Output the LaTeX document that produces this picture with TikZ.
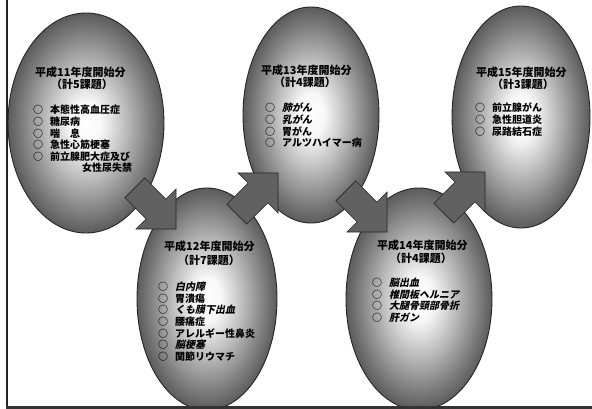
\documentclass[tikz,border=0pt]{standalone}
\usepackage{fontspec}
\usetikzlibrary{shapes.geometric}
\newfontfamily\jp{Noto Sans CJK JP}
\newfontfamily\jpsl{Noto Sans CJK JP}[FakeSlant=0.22]
\pgfdeclareradialshading{eggshade}{\pgfpoint{0bp}{0bp}}{color(0bp)=(white); color(5bp)=(black!3); color(13bp)=(black!27); color(21bp)=(black!52); color(25bp)=(black!64); color(50bp)=(black!64)}
\newcommand\myo{○\hspace{7pt}}
\newcommand\slnt[1]{{\jpsl\bfseries #1}}
\tikzset{
  uparrow/.pic={\path[blk] (0,0) -- (-40,0) -- (-29.9,10.1) -- (-51.1,31.3) -- (-31.3,51.1) -- (-10.1,29.9) -- (0,40) -- cycle;}
}
\begin{document}
\begin{tikzpicture}[x=1pt,y=-1pt,
  egg/.style={ellipse, draw=black!85, line width=0.9pt, shade, shading=eggshade, inner sep=0pt},
  ttl/.style={font=\jp\bfseries\fontsize{11}{12}\selectfont, anchor=base west, inner sep=0pt},
  lst/.style={font=\jp\bfseries\fontsize{10}{11.6}\selectfont, align=left, anchor=north west, inner sep=0pt},
  blk/.style={fill=black!62, draw=black!85, line width=0.6pt, line join=miter}
]
\useasboundingbox (0,0) rectangle (592,409);
\fill[white] (0,0) rectangle (592,409);

% ellipses
\node[egg, minimum width=156pt, minimum height=220pt] (e1) at (86,123) {};
\node[egg, minimum width=136pt, minimum height=216pt] (e3) at (311,115) {};
\node[egg, minimum width=138pt, minimum height=222pt] (e5) at (521,117) {};
\node[egg, minimum width=140pt, minimum height=222pt] (e2) at (207,299) {};
\node[egg, minimum width=146pt, minimum height=222pt] (e4) at (419,299) {};

% block arrows
\pic[yscale=-1] at (176,229) {uparrow};
\pic at (278,173) {uparrow};
\pic[yscale=-1] at (387,232) {uparrow};
\pic at (485,172) {uparrow};

% titles
\node[ttl] (t1) at (e1.center) [xshift=-51pt, yshift=46.8pt] {平成11年度開始分};
\node[ttl] (s1) at (e1.center) [xshift=-35pt, yshift=34.6pt] {（計5課題）};
\node[ttl] (t2) at (164,250.2) {平成12年度開始分};
\node[ttl] (s2) at (178,264.4) {（計7課題）};
\node[ttl] (t3) at (261,74.2) {平成13年度開始分};
\node[ttl] (s3) at (274,86.4) {（計4課題）};
\node[ttl] (t4) at (377,249.2) {平成14年度開始分};
\node[ttl] (s4) at (390,262.4) {（計4課題）};
\node[ttl] (t5) at (476,76.2) {平成15年度開始分};
\node[ttl] (s5) at (492,88.4) {（計3課題）};

% lists
\node[lst] (l1) at (33,105) {\myo 本態性高血圧症\\\myo 糖尿病\\\myo 喘　息\\\myo 急性心筋梗塞\\\myo 前立腺肥大症及び\\\hspace*{49pt}女性尿失禁};
\node[lst] (l2) at (158,282) {\myo\slnt{白内障}\\\myo 胃潰瘍\\\myo\slnt{くも膜下出血}\\\myo 腰痛症\\\myo アレルギー性鼻炎\\\myo\slnt{脳梗塞}\\\myo 関節リウマチ};
\node[lst] (l3) at (265,103) {\myo\slnt{肺がん}\\\myo\slnt{乳がん}\\\myo 胃がん\\\myo アルツハイマー病};
\node[lst] (l4) at (372,278) {\myo\slnt{脳出血}\\\myo\slnt{椎間板ヘルニア}\\\myo\slnt{大腿骨頸部骨折}\\\myo\slnt{肝ガン}};
\node[lst] (l5) at (475,103) {\myo 前立腺がん\\\myo 急性胆道炎\\\myo 尿路結石症};

% frame
\draw[line width=2.2pt, black!85] (7,0) -- (7,409);
\draw[line width=3pt, black!80] (6,407.5) -- (592,407.5);
\end{tikzpicture}
\end{document}
